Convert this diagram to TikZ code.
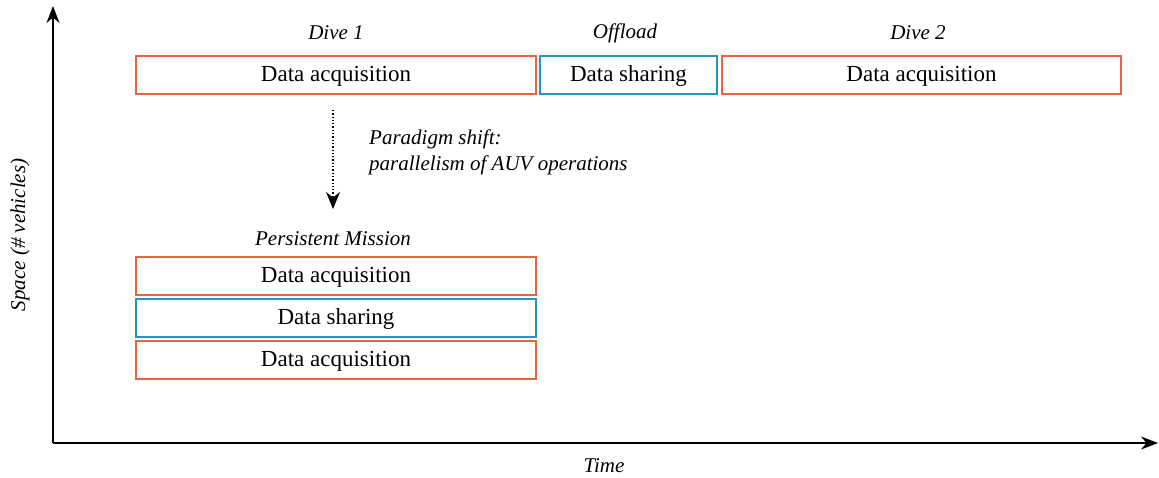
\documentclass[tikz,border=0pt]{standalone}
\usepackage{fontspec}
\setmainfont{Liberation Serif}
\usetikzlibrary{arrows.meta}
\definecolor{acq}{RGB}{232,100,60}
\definecolor{shr}{RGB}{35,150,200}
\begin{document}
\begin{tikzpicture}[x=1pt,y=-1pt,
  box/.style={draw, line width=1.6pt, minimum height=38pt, inner sep=0pt,
    text height=17pt, text depth=4pt, font=\fontsize{23}{27}\selectfont},
  acqbox/.style={box, draw=acq},
  shrbox/.style={box, draw=shr},
  lab/.style={font=\fontsize{21}{25}\selectfont\itshape, inner sep=0pt},
  axis/.style={line width=1.4pt, -{Stealth[length=17pt,width=13pt]}}]
\useasboundingbox (0,0) rectangle (1159,478);
% axes
\coordinate (O) at (53,443);
\coordinate (ytop) at (53,6);
\coordinate (xend) at (1158,443);
\draw[axis] (O) -- (ytop);
\draw[axis] (O) -- (xend);
\node[lab, rotate=90] (ylab) at (20,235) {Space (\# vehicles)};
\node[lab] (xlab) at (604,466) {Time};
% top row
\node[acqbox, minimum width=400pt] (d1) at (336,75) {Data acquisition};
\node[shrbox, minimum width=177pt] (off) at (628.5,75) {Data sharing};
\node[acqbox, minimum width=399pt] (d2) at (921.5,75) {Data acquisition};
\node[lab] (d1l) at (336,33) {Dive 1};
\node[lab] (offl) at (625,33) {Offload};
\node[lab] (d2l) at (918,33) {Dive 2};
% paradigm shift
\coordinate (as) at (333,110);
\coordinate (ae) at (333,209);
\draw[line width=1.3pt, dotted, -{Stealth[length=17pt,width=14pt]}] (as) -- (ae);
\node[lab, anchor=west, align=left] (ps) at (369,152) {Paradigm shift:\\[1pt]parallelism of AUV operations};
% persistent mission
\node[lab] (pml) at (333,239) {Persistent Mission};
\node[acqbox, minimum width=400pt] (pa) at (336,276) {Data acquisition};
\node[shrbox, minimum width=400pt] (pb) at (336,318) {Data sharing};
\node[acqbox, minimum width=400pt] (pc) at (336,360) {Data acquisition};
\end{tikzpicture}
\end{document}
